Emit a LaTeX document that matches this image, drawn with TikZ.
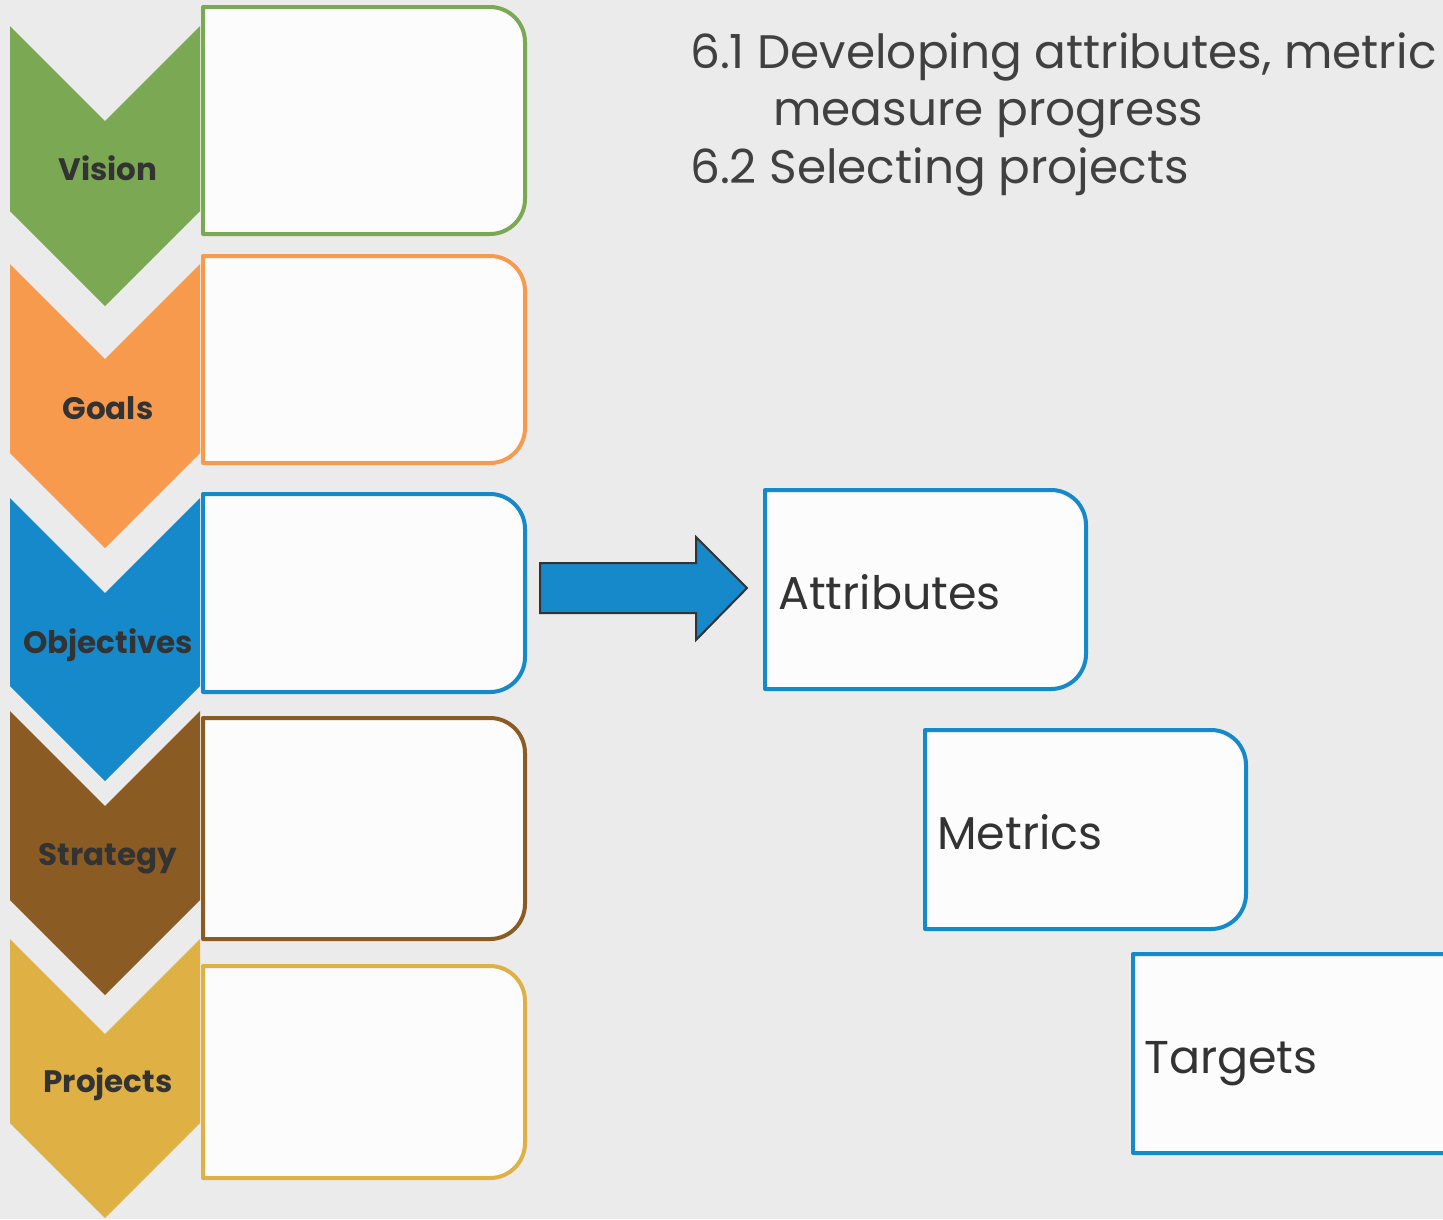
\documentclass[tikz,border=0pt]{standalone}
\usepackage{fontspec}
\setmainfont{Poppins}
\definecolor{bg}{HTML}{EBEBEB}
\definecolor{boxfill}{HTML}{FCFCFC}
\definecolor{cgreen}{HTML}{7BA852}
\definecolor{corange}{HTML}{F79A4E}
\definecolor{cblue}{HTML}{1589CA}
\definecolor{cbrown}{HTML}{8B5B24}
\definecolor{cgold}{HTML}{DFB044}
\definecolor{tdark}{HTML}{333333}
\definecolor{tgray}{HTML}{404040}
\newcommand\rbox[5]{%
\draw[boxline, draw=#1] (#2,#3) -- ({#4-35},#3) .. controls ({#4-15.7},#3) and (#4,{#3+15.7}) .. (#4,{#3+35}) -- (#4,{#5-35}) .. controls (#4,{#5-15.7}) and ({#4-15.7},#5) .. ({#4-35},#5) -- (#2,#5) -- cycle;}
\newcommand\chev[3]{% color top bottom
\fill[#1] (10,#2) -- (105,{#2+95}) -- (200,#2) -- (200,#3) -- (105,{#3+95}) -- (10,#3) -- cycle;}
\tikzset{
  boxline/.style={line width=4pt, fill=boxfill, line join=round},
  chevlabel/.style={font=\fontsize{31}{31}\selectfont\bfseries, text=tdark, inner sep=0pt, anchor=base},
  header/.style={font=\fontsize{47}{47}\selectfont, text=tgray, inner sep=0pt, anchor=base west},
  boxtext/.style={font=\fontsize{46}{46}\selectfont, text=tdark, inner sep=0pt, anchor=base west},
}
\begin{document}
\begin{tikzpicture}[x=1pt, y=-1pt]
\useasboundingbox (0,0) rectangle (1443,1219);
\fill[bg] (0,0) rectangle (1443,1219);
% chevrons
\chev{cgreen}{26}{211}
\chev{corange}{264}{453}
\chev{cblue}{498}{686}
\chev{cbrown}{711}{900}
\chev{cgold}{939}{1123}
% boxes
\rbox{cgreen}{203}{7}{525}{234}
\rbox{corange}{203}{256}{525}{463}
\rbox{cblue}{203}{494}{525}{692}
\rbox{cbrown}{203}{718}{525}{939}
\rbox{cgold}{203}{966}{525}{1178}
% labels
\node[chevlabel] (vision) at (108,180) {Vision};
\node[chevlabel] (goals) at (108,419) {Goals};
\node[chevlabel] (objectives) at (108,653) {Objectives};
\node[chevlabel] (strategy) at (108,865) {Strategy};
\node[chevlabel] (projects) at (108,1092) {Projects};
% header
\node[header] (h1) at (690,68) {6.1 Developing attributes, metric};
\node[header] (h2) at (773,125) {measure progress};
\node[header] (h3) at (690,183) {6.2 Selecting projects};
% arrow
\draw[fill=cblue, draw=tdark, line width=2pt, line join=miter] (540,563) -- (696,563) -- (696,537) -- (747,588) -- (696,640) -- (696,613) -- (540,613) -- cycle;
% right boxes
\rbox{cblue}{765}{490}{1086}{689}
\rbox{cblue}{925}{730}{1246}{929}
\rbox{cblue}{1133}{954}{1480}{1153}
\node[boxtext] (attr) at (778,609) {Attributes};
\node[boxtext] (metr) at (937,849) {Metrics};
\node[boxtext] (targ) at (1144,1073) {Targets};
\end{tikzpicture}
\end{document}
